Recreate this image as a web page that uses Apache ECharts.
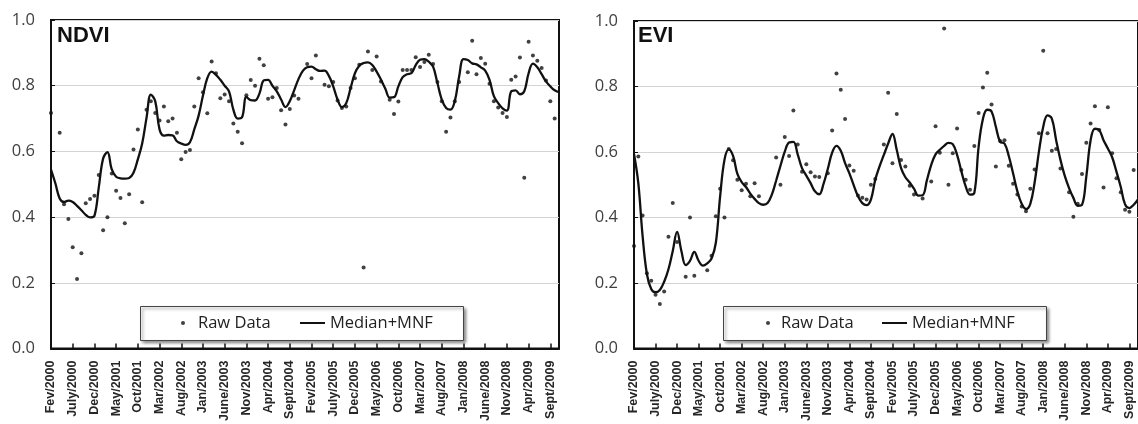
<!DOCTYPE html>
<html>
<head>
<meta charset="utf-8">
<script src="https://cdn.jsdelivr.net/npm/echarts@6/dist/echarts.min.js"></script>
<style>
  html, body { margin: 0; padding: 0; background: #fff; }
  #chart { width: 1138px; height: 424px; }
</style>
</head>
<body>
<div id="chart"></div>
<script>
// month labels, Fev/2000 .. Nov/2009 (one category per month)
const monthNames = ['Jan', 'Fev', 'Mar', 'Apr', 'May', 'June', 'July', 'Aug', 'Sept', 'Oct', 'Nov', 'Dec'];
const startYear = 2000, startMonth = 1, monthCount = 118;
const months = [];
for (let i = 0; i < monthCount; i++) {
  const m = (startMonth + i) % 12;
  const y = startYear + Math.floor((startMonth + i) / 12);
  months.push(monthNames[m] + '/' + y);
}

const yTicks = [0, 0.2, 0.4, 0.6, 0.8, 1.0];

// NDVI
const ndviRaw = [
  0.717, null, 0.657, 0.439, 0.394, 0.308, 0.212, 0.29, 0.442, 0.455,
  0.465, 0.528, 0.36, 0.40, 0.533, 0.48, 0.458, 0.381, 0.47, 0.606,
  0.667, 0.445, 0.727, 0.753, 0.717, 0.694, 0.737, 0.692, 0.70, 0.657,
  0.576, 0.598, 0.604, 0.737, 0.823, 0.78, 0.716, 0.874, 0.838, 0.762,
  0.773, 0.753, 0.685, 0.66, 0.625, 0.771, 0.817, 0.80, 0.882, 0.862,
  0.76, 0.765, 0.793, 0.725, 0.682, 0.729, 0.77, 0.76, null, 0.866,
  0.823, 0.892, null, 0.803, 0.798, 0.811, 0.755, 0.732, 0.737, 0.793,
  0.823, 0.864, 0.247, 0.904, 0.848, 0.889, 0.813, null, 0.757, 0.714,
  0.752, 0.848, 0.848, 0.848, 0.887, 0.857, 0.872, 0.894, 0.866, 0.811,
  0.753, 0.66, 0.703, 0.753, 0.811, null, 0.841, 0.937, 0.835, 0.884,
  0.867, 0.806, 0.753, 0.734, 0.717, 0.705, 0.818, 0.828, 0.886, 0.52,
  0.934, 0.892, 0.876, 0.854, 0.816, 0.753, 0.70, null
];
const ndviSmooth = [
  0.545, 0.503, 0.457, 0.446, 0.45, 0.446, 0.434, 0.421, 0.407, 0.399,
  0.404, 0.49, 0.578, 0.598, 0.545, 0.523, 0.518, 0.517, 0.519, 0.535,
  0.576, 0.624, 0.702, 0.773, 0.753, 0.667, 0.648, 0.65, 0.649, 0.631,
  0.624, 0.62, 0.628, 0.667, 0.709, 0.77, 0.823, 0.843, 0.833, 0.818,
  0.80, 0.783, 0.727, 0.70, 0.704, 0.766, 0.756, 0.755, 0.776, 0.816,
  0.818, 0.80, 0.783, 0.758, 0.735, 0.753, 0.786, 0.82, 0.845, 0.856,
  0.858, 0.85, 0.845, 0.846, 0.83, 0.798, 0.758, 0.735, 0.747, 0.793,
  0.838, 0.861, 0.869, 0.871, 0.863, 0.843, 0.818, 0.791, 0.764, 0.765,
  0.798, 0.826, 0.835, 0.838, 0.863, 0.879, 0.881, 0.873, 0.858, 0.808,
  0.758, 0.732, 0.727, 0.753, 0.828, 0.881, 0.878, 0.868, 0.865, 0.856,
  0.846, 0.818, 0.768, 0.747, 0.731, 0.724, 0.783, 0.786, 0.774, 0.783,
  0.838, 0.867, 0.856, 0.835, 0.813, 0.798, 0.786, 0.78
];

// EVI
const eviRaw = [
  0.313, 0.586, 0.406, 0.23, 0.207, 0.164, 0.136, 0.174, 0.341, 0.444,
  0.325, null, 0.219, 0.40, 0.222, null, null, 0.239, 0.283, 0.404,
  0.488, 0.40, 0.609, 0.575, 0.515, 0.483, 0.503, 0.465, 0.505, 0.465,
  null, null, null, 0.583, 0.50, 0.646, 0.588, 0.727, 0.623, 0.54,
  0.563, 0.538, 0.525, 0.524, null, 0.535, 0.666, 0.84, 0.79, 0.701,
  0.559, 0.543, 0.467, 0.46, 0.455, 0.50, 0.518, null, 0.623, 0.781,
  0.566, 0.716, 0.576, 0.556, 0.497, 0.47, null, 0.458, null, 0.51,
  0.679, 0.598, 0.977, 0.50, 0.596, 0.672, 0.545, 0.515, 0.485, 0.618,
  0.719, 0.797, 0.842, 0.745, 0.556, 0.634, 0.636, 0.558, 0.503, 0.47,
  0.434, 0.419, 0.488, 0.547, 0.657, 0.909, 0.657, 0.604, 0.609, 0.55,
  null, 0.477, 0.402, 0.442, 0.533, 0.628, 0.687, 0.74, 0.667, 0.492,
  0.737, 0.596, 0.52, 0.477, 0.424, 0.418, 0.545, null
];
const eviSmooth = [
  0.594, 0.505, 0.343, 0.227, 0.182, 0.172, 0.179, 0.204, 0.242, 0.298,
  0.356, 0.298, 0.255, 0.268, 0.295, 0.268, 0.253, 0.26, 0.275, 0.323,
  0.465, 0.576, 0.608, 0.588, 0.533, 0.508, 0.493, 0.473, 0.457, 0.444,
  0.439, 0.444, 0.47, 0.513, 0.558, 0.601, 0.629, 0.631, 0.593, 0.551,
  0.528, 0.505, 0.48, 0.471, 0.503, 0.549, 0.598, 0.619, 0.604, 0.566,
  0.535, 0.499, 0.465, 0.444, 0.438, 0.455, 0.515, 0.556, 0.591, 0.626,
  0.655, 0.606, 0.551, 0.523, 0.507, 0.488, 0.467, 0.468, 0.514, 0.561,
  0.593, 0.607, 0.619, 0.628, 0.624, 0.591, 0.541, 0.495, 0.47, 0.475,
  0.616, 0.701, 0.729, 0.724, 0.677, 0.631, 0.626, 0.588, 0.535, 0.48,
  0.442, 0.426, 0.442, 0.507, 0.601, 0.677, 0.712, 0.702, 0.636, 0.576,
  0.527, 0.49, 0.46, 0.436, 0.439, 0.525, 0.636, 0.671, 0.667, 0.636,
  0.611, 0.584, 0.54, 0.493, 0.44, 0.429, 0.439, 0.455
];

const chart = echarts.init(document.getElementById('chart'), null, { renderer: 'canvas' });

const INK = '#111';

function makeX(gridIndex) {
  return {
    type: 'category',
    gridIndex: gridIndex,
    data: months,
    boundaryGap: false,
    axisLine: { lineStyle: { color: INK, width: 2 } },
    axisTick: { interval: 4, inside: true, length: 5, lineStyle: { color: INK, width: 1.5 } },
    axisLabel: {
      interval: 4,
      rotate: 90,
      margin: 12,
      color: '#262626',
      fontFamily: 'Liberation Sans',
      fontWeight: 'bold',
      fontSize: 12.5
    },
    splitLine: { show: false }
  };
}

function makeY(gridIndex) {
  return {
    type: 'value',
    gridIndex: gridIndex,
    min: yTicks[0],
    max: yTicks[yTicks.length - 1],
    interval: 0.2,
    axisLine: { show: true, lineStyle: { color: INK, width: 2 } },
    axisTick: { show: true, inside: true, length: 4, lineStyle: { color: INK } },
    axisLabel: {
      margin: 16,
      color: '#404040',
      fontFamily: 'Open Sans',
      fontSize: 16.5,
      formatter: v => v.toFixed(1)
    },
    splitLine: { lineStyle: { color: '#d4d4d4', width: 1 } }
  };
}

function rawSeries(data, idx) {
  return {
    name: 'Raw Data',
    type: 'scatter',
    xAxisIndex: idx,
    yAxisIndex: idx,
    data: data,
    symbol: 'circle',
    symbolSize: 4,
    itemStyle: { color: INK },
    silent: true,
    z: 3
  };
}

function smoothSeries(data, idx) {
  return {
    name: 'Median+MNF',
    type: 'line',
    xAxisIndex: idx,
    yAxisIndex: idx,
    data: data,
    smooth: 0.4,
    showSymbol: false,
    lineStyle: { color: INK, width: 2.3 },
    itemStyle: { color: INK },
    silent: true,
    z: 4
  };
}

const legendText = { fontFamily: 'Open Sans', fontSize: 16.5, color: '#222', lineHeight: 20 };

function legendBox(x) {
  return {
    type: 'rect',
    left: x,
    top: 306,
    z: 5,
    shape: { width: 323, height: 34 },
    style: {
      fill: '#fff',
      stroke: '#444',
      lineWidth: 1,
      shadowBlur: 3,
      shadowOffsetX: 2,
      shadowOffsetY: 2,
      shadowColor: 'rgba(0,0,0,0.45)'
    }
  };
}

const option = {
  backgroundColor: '#fff',
  animation: false,
  title: [
    { text: 'NDVI', left: 57, top: 25, padding: 0,
      textStyle: { fontFamily: 'Liberation Sans', fontWeight: 'bold', fontSize: 22, color: INK } },
    { text: 'EVI', left: 638, top: 25, padding: 0,
      textStyle: { fontFamily: 'Liberation Sans', fontWeight: 'bold', fontSize: 22, color: INK } }
  ],
  grid: [
    { left: 51, top: 20, width: 508, height: 330, show: true, borderColor: INK, borderWidth: 2, backgroundColor: '#fff' },
    { left: 634, top: 21, width: 508, height: 329, show: true, borderColor: INK, borderWidth: 2, backgroundColor: '#fff' }
  ],
  xAxis: [makeX(0), makeX(1)],
  yAxis: [makeY(0), makeY(1)],
  legend: [
    { data: [{ name: 'Raw Data', icon: 'circle' }], left: 181, top: 313, itemWidth: 4, itemHeight: 4,
      padding: 0, selectedMode: false, z: 6, textStyle: Object.assign({ padding: [0, 0, 0, 8] }, legendText) },
    { data: [{ name: 'Median+MNF', icon: 'rect' }], left: 300, top: 313, itemWidth: 25, itemHeight: 2,
      padding: 0, selectedMode: false, z: 6, textStyle: legendText },
    { data: [{ name: 'Raw Data', icon: 'circle' }], left: 766, top: 313, itemWidth: 4, itemHeight: 4,
      padding: 0, selectedMode: false, z: 6, textStyle: Object.assign({ padding: [0, 0, 0, 6] }, legendText) },
    { data: [{ name: 'Median+MNF', icon: 'rect' }], left: 882, top: 313, itemWidth: 25, itemHeight: 2,
      padding: 0, selectedMode: false, z: 6, textStyle: legendText }
  ],
  graphic: [legendBox(140), legendBox(723)],
  series: [
    rawSeries(ndviRaw, 0),
    smoothSeries(ndviSmooth, 0),
    rawSeries(eviRaw, 1),
    smoothSeries(eviSmooth, 1)
  ]
};

chart.setOption(option);
</script>
</body>
</html>
